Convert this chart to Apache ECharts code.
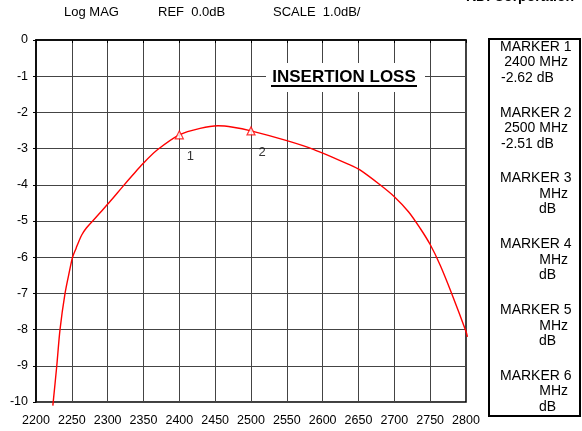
<!DOCTYPE html>
<html>
<head>
<meta charset="utf-8">
<script src="https://cdn.jsdelivr.net/npm/echarts@6/dist/echarts.min.js"></script>
<style>
  html,body{margin:0;padding:0;background:#fff;}
  #main{width:582px;height:431px;}
</style>
</head>
<body>
<div id="main"></div>
<script>
// 频率 (MHz) 与插损 (dB)
var freq = [2223.5, 2229, 2233.5, 2240.5, 2247, 2251, 2256, 2260, 2264, 2270, 2280, 2290, 2303, 2321, 2335, 2349, 2369, 2400, 2429, 2454, 2475, 2500, 2550, 2587, 2638, 2652, 2680, 2700, 2720, 2736, 2750, 2764, 2780, 2800, 2802];
var loss = [-10.1, -9.0, -8.0, -7.0, -6.36, -6.0, -5.75, -5.55, -5.38, -5.2, -4.98, -4.76, -4.47, -4.05, -3.73, -3.42, -3.04, -2.62, -2.44, -2.37, -2.41, -2.51, -2.78, -3.02, -3.45, -3.59, -4.0, -4.33, -4.75, -5.2, -5.65, -6.22, -7.0, -8.05, -8.2];
// 标记
var markerNames = ['1', '2'];
var markerFreq = [2400, 2500];
var markerDb = [-2.62, -2.51];
// 右侧标记框 (6个)
var boxFreq = ['2400', '2500', '', '', '', ''];
var boxDb = ['-2.62', '-2.51', '', '', '', ''];
// 顶部文字
var headTexts = ['Log MAG', 'REF  0.0dB', 'SCALE  1.0dB/'];

var FONT = "'Liberation Sans', Arial, sans-serif";
var myChart = echarts.init(document.getElementById('main'));

var lineData = [];
for (var i = 0; i < freq.length; i++) lineData.push([freq[i], loss[i]]);
var markData = [];
for (var i = 0; i < markerFreq.length; i++) markData.push({value: [markerFreq[i], markerDb[i]], name: markerNames[i]});

// 图形元素
var graphics = [];
var headX = [64, 158, 273];
for (var i = 0; i < headTexts.length; i++) {
    graphics.push({type: 'text', left: headX[i], top: 6, style: {text: headTexts[i], font: '13px ' + FONT, fill: '#000'}});
}
graphics.push({type: 'text', x: 466, y: -3, style: {text: 'KDI Corporation', font: 'bold 14px ' + FONT, fill: '#000', verticalAlign: 'middle'}});
// 标题
graphics.push({type: 'rect', shape: {x: 266, y: 63, width: 159, height: 29}, style: {fill: '#fff'}, z: 10});
graphics.push({type: 'text', x: 344, y: 77, style: {text: 'INSERTION LOSS', font: 'bold 17px ' + FONT, fill: '#000', align: 'center', verticalAlign: 'middle'}, z: 11});
graphics.push({type: 'line', shape: {x1: 271, y1: 86, x2: 417, y2: 86}, style: {stroke: '#000', lineWidth: 2}, z: 11});
// 标记框
graphics.push({type: 'rect', shape: {x: 489, y: 39, width: 91, height: 377}, style: {fill: '#fff', stroke: '#000', lineWidth: 2}});
for (var k = 0; k < 6; k++) {
    var y0 = 47 + k * 65.8;
    graphics.push({type: 'text', x: 500, y: y0, style: {text: 'MARKER ' + (k + 1), font: '14px ' + FONT, fill: '#000', verticalAlign: 'middle'}});
    graphics.push({type: 'text', x: 568, y: y0 + 15.5, style: {text: (boxFreq[k] ? boxFreq[k] + ' ' : '') + 'MHz', font: '14px ' + FONT, fill: '#000', align: 'right', verticalAlign: 'middle'}});
    if (boxDb[k]) {
        graphics.push({type: 'text', x: 501, y: y0 + 31, style: {text: boxDb[k] + ' dB', font: '14px ' + FONT, fill: '#000', verticalAlign: 'middle'}});
    } else {
        graphics.push({type: 'text', x: 539, y: y0 + 31, style: {text: 'dB', font: '14px ' + FONT, fill: '#000', verticalAlign: 'middle'}});
    }
}

var option = {
    animation: false,
    backgroundColor: '#fff',
    grid: {left: 36, top: 40, right: 116, bottom: 29, show: true, borderColor: '#000', borderWidth: 1.5},
    xAxis: {
        type: 'value', min: 2200, max: 2800, interval: 50,
        axisLine: {show: true, lineStyle: {color: '#000', width: 1.5}},
        axisTick: {show: true, length: 3, lineStyle: {color: '#000'}},
        axisLabel: {color: '#000', fontSize: 12.5, fontFamily: FONT, margin: 12, showMinLabel: true, showMaxLabel: true,
            formatter: function (v) { return String(v); }},
        splitLine: {show: true, lineStyle: {color: '#444', width: 1}}
    },
    yAxis: {
        type: 'value', min: -10, max: 0, interval: 1,
        axisLine: {show: true, lineStyle: {color: '#000', width: 1.5}},
        axisTick: {show: true, length: 3, lineStyle: {color: '#000'}},
        axisLabel: {color: '#000', fontSize: 12.5, fontFamily: FONT, margin: 8},
        splitLine: {show: true, lineStyle: {color: '#444', width: 1}}
    },
    series: [
        {
            type: 'line', data: lineData, smooth: 0.3, symbol: 'none', clip: false,
            lineStyle: {color: '#ff0000', width: 1.4}, z: 3
        },
        {
            type: 'scatter', data: markData, symbol: 'triangle', symbolSize: 8, z: 4,
            itemStyle: {color: '#fff', borderColor: '#ff0000', borderWidth: 1.2},
            label: {show: true, formatter: '{b}', position: 'inside', offset: [11, 22], color: '#000', fontSize: 13, fontFamily: FONT}
        }
    ],
    graphic: graphics
};
myChart.setOption(option);
</script>
</body>
</html>
